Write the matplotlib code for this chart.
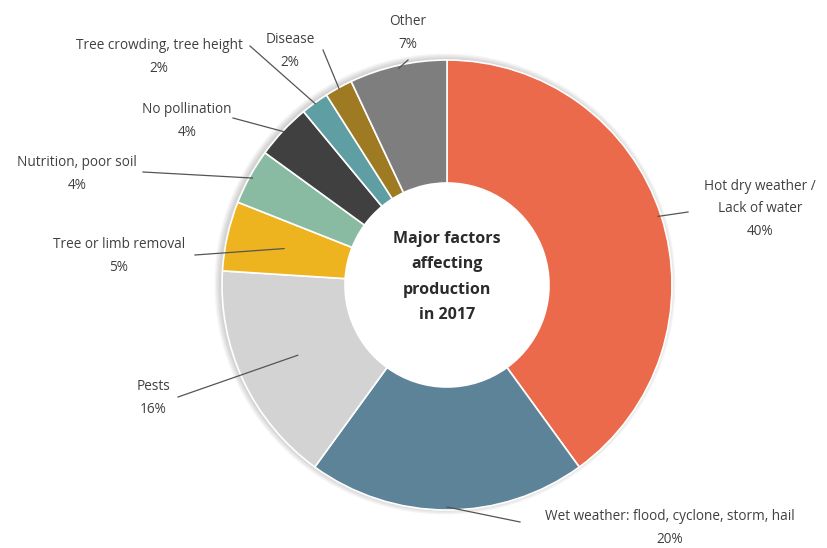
import numpy as np
import matplotlib
matplotlib.use("Agg")
import matplotlib.pyplot as plt
from matplotlib.patches import Circle

# Factors affecting production, share of growers (%)
categories = [
    "Hot dry weather /\nLack of water",
    "Wet weather: flood, cyclone, storm, hail",
    "Pests",
    "Tree or limb removal",
    "Nutrition, poor soil",
    "No pollination",
    "Tree crowding, tree height",
    "Disease",
    "Other",
]
values = [40, 20, 16, 5, 4, 4, 2, 2, 7]
colors = ["#EA6A4B", "#5D8399", "#D3D3D3", "#EEB420", "#88BBA2",
          "#404040", "#5F9EA2", "#9E7A22", "#7E7E7E"]

# label text centre (figure pixels, y measured from top)
label_pos = [(760, 209), (670, 528), (153, 398), (119, 256),
             (77, 174), (187, 121), (159, 57), (290, 51), (408, 33)]
# outer end of each leader line
label_anchor = [(688, 212), (520, 522), (178, 397), (195, 255),
                (143, 172), (233, 118), (250, 46), (323, 50), (408, 60)]
# how far each leader line reaches into the ring (radius, px)
leader_r = [222, 222, 165, 167, 222, 224, 224, 224, 222]

W, H = 827, 548
fig = plt.figure(figsize=(W / 100, H / 100), dpi=100)
ax = fig.add_axes([0, 0, 1, 1])
ax.set_xlim(0, W)
ax.set_ylim(0, H)
ax.axis("off")

cx, cy = 447, H - 285
R = 225
ring = 123

# soft shadow behind the ring
for i in range(4):
    ax.add_patch(Circle((cx - 2, cy + 1), R + 1 + i * 1.5, color="#000000",
                        alpha=0.045, zorder=0, lw=0))
ax.add_patch(Circle((cx, cy), R - ring, color="white", zorder=0.5, lw=0))

wedges, _ = ax.pie(values, colors=colors, startangle=90, counterclock=False,
                   center=(cx, cy), radius=R,
                   wedgeprops=dict(width=ring, edgecolor="white", linewidth=1.2),
                   frame=False)
ax.set_xlim(0, W)
ax.set_ylim(0, H)
for w in wedges:
    w.set_zorder(2)

ax.text(cx, H - 277, "Major factors\naffecting\nproduction\nin 2017",
        ha="center", va="center", fontsize=11.5, fontweight="bold",
        family="Open Sans", color="#2b2b2b", linespacing=1.78)

total = sum(values)
cum = 0
for cat, v, (lx, ly), (axx, ayy), rr in zip(categories, values, label_pos,
                                             label_anchor, leader_r):
    mid = (cum + v / 2) / total * 2 * np.pi
    cum += v
    px = cx + rr * np.sin(mid)
    py = cy + rr * np.cos(mid)
    ax.plot([axx, px], [H - ayy, py], color="#555555", lw=0.9, zorder=3)
    ax.text(lx, H - ly, f"{cat}\n{v}%", ha="center", va="center",
            fontsize=9.8, family="Open Sans", color="#404040",
            linespacing=1.65, zorder=5)

fig.savefig("out.png", dpi=100)
